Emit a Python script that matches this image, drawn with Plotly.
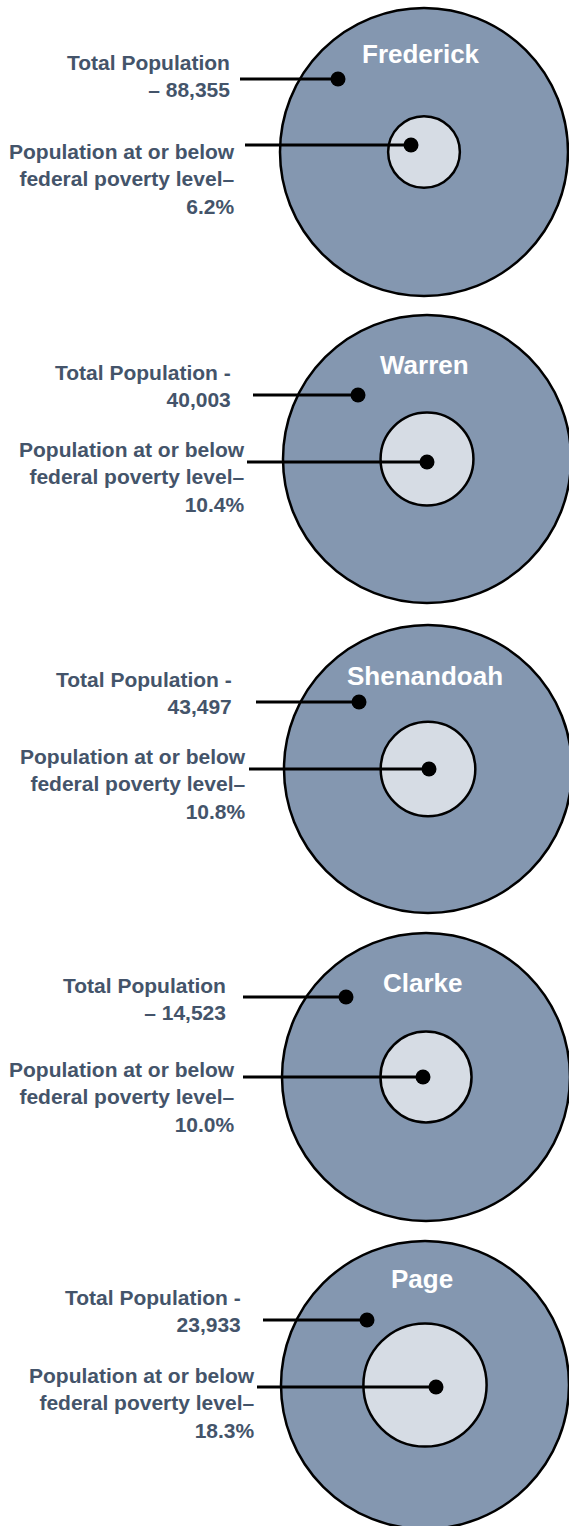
"""County population vs. poverty — nested circle diagram (Plotly)."""

import math
import plotly.graph_objects as go

# data
COUNTIES = ["Frederick", "Warren", "Shenandoah", "Clarke", "Page"]
TOTAL_POPULATION = [88355, 40003, 43497, 14523, 23933]
POVERTY_PCT = [6.2, 10.4, 10.8, 10.0, 18.3]
# how the total population label was written for each county
POP_LABEL_HEAD = ["Total Population", "Total Population -", "Total Population -",
                  "Total Population", "Total Population -"]
POP_VALUE_PREFIX = ["– ", "", "", "– ", ""]
POVERTY_LABEL = "Population at or below<br>federal poverty level–"

# layout (pixels, y downwards)
W, H = 569, 1526
RADIUS = 144
CIRCLE_CX = [424, 427, 428, 426, 425]
CIRCLE_CY = [152, 459, 769, 1077, 1385]
NAME_Y = [54, 365, 676, 983, 1279]
POP_DOT = [(338, 79), (358, 395), (359, 702), (346, 997), (367, 1320)]
POP_LINE_X0 = [240, 253, 256, 243, 263]
POP_TEXT = [(232, 76), (233, 386), (234, 693), (228, 999), (243, 1311)]
POV_DOT = [(411, 145), (427, 462), (429, 769), (423, 1077), (436, 1387)]
POV_LINE_X0 = [245, 247, 249, 243, 257]
POV_TEXT = [(237, 179), (247, 477), (248, 784), (237, 1097), (257, 1403)]

BIG_FILL = "#8497B0"
SMALL_FILL = "#D6DCE4"
TEXT_COLOR = "#44546A"
FONT = "Liberation Sans, Arial, sans-serif"
LABEL_SIZE = 21

fig = go.Figure()
shapes, annotations = [], []

for i, name in enumerate(COUNTIES):
    cx, cy = CIRCLE_CX[i], CIRCLE_CY[i]
    r_small = RADIUS * math.sqrt(POVERTY_PCT[i] / 100)

    shapes.append(dict(type="circle", xref="x", yref="y", layer="below",
                       x0=cx - RADIUS, x1=cx + RADIUS, y0=cy - RADIUS, y1=cy + RADIUS,
                       fillcolor=BIG_FILL, line=dict(color="black", width=2.5)))
    shapes.append(dict(type="circle", xref="x", yref="y", layer="below",
                       x0=cx - r_small, x1=cx + r_small, y0=cy - r_small, y1=cy + r_small,
                       fillcolor=SMALL_FILL, line=dict(color="black", width=2.5)))

    # leader lines + dots
    for x0, (dx, dy) in ((POP_LINE_X0[i], POP_DOT[i]), (POV_LINE_X0[i], POV_DOT[i])):
        fig.add_trace(go.Scatter(
            x=[x0, dx], y=[dy, dy], mode="lines",
            line=dict(color="black", width=3), hoverinfo="skip", showlegend=False,
        ))
        fig.add_trace(go.Scatter(
            x=[dx], y=[dy], mode="markers",
            marker=dict(color="black", size=15), hoverinfo="skip", showlegend=False,
        ))

    annotations.append(dict(
        x=cx - 3, y=NAME_Y[i], xref="x", yref="y", text=name, showarrow=False,
        font=dict(family=FONT, size=26, color="white", weight="bold"),
        xanchor="center", yanchor="middle",
    ))
    px, py = POP_TEXT[i]
    annotations.append(dict(
        x=px, y=py, xref="x", yref="y", showarrow=False,
        text=f"{POP_LABEL_HEAD[i]}<br>{POP_VALUE_PREFIX[i]}{TOTAL_POPULATION[i]:,}",
        font=dict(family=FONT, size=LABEL_SIZE, color=TEXT_COLOR, weight="bold"),
        xanchor="right", yanchor="middle", align="right",
    ))
    vx, vy = POV_TEXT[i]
    annotations.append(dict(
        x=vx, y=vy, xref="x", yref="y", showarrow=False,
        text=f"{POVERTY_LABEL}<br>{POVERTY_PCT[i]:.1f}%",
        font=dict(family=FONT, size=LABEL_SIZE, color=TEXT_COLOR, weight="bold"),
        xanchor="right", yanchor="middle", align="right",
    ))

fig.update_layout(
    width=W, height=H,
    margin=dict(l=0, r=0, t=0, b=0),
    paper_bgcolor="white", plot_bgcolor="white",
    xaxis=dict(range=[0, W], visible=False, fixedrange=True),
    yaxis=dict(range=[H, 0], visible=False, fixedrange=True),
    shapes=shapes, annotations=annotations,
    showlegend=False,
)

# page body has a default 8px margin; drop it so the figure sits at 0,0
fig.write_html("out.html", config={"displayModeBar": False},
               post_script="document.body.style.margin='0';"
                           "document.body.style.overflow='hidden';")
